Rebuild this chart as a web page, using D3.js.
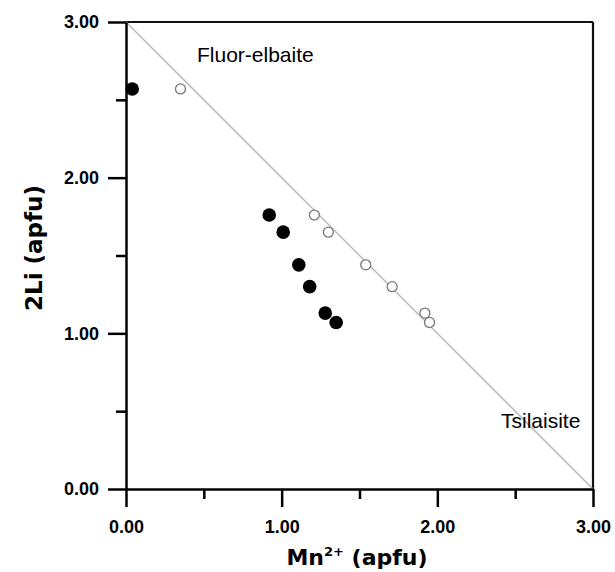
<!DOCTYPE html>
<html>
<head>
<meta charset="utf-8">
<title>2Li vs Mn2+</title>
<script src="https://d3js.org/d3.v7.min.js"></script>
<style>
  body { margin: 0; background: #fff; }
  svg { display: block; }
  .tick text { font-family: "Liberation Sans", Arial, sans-serif; font-weight: bold; font-size: 18px; fill: #000; }
  .axis path, .axis line { stroke: #000; stroke-width: 2.5; }
</style>
</head>
<body>
<svg id="chart" width="615" height="572"></svg>
<script>
// data (Mn2+ apfu, 2Li apfu)
var filledMn = [0.04, 0.92, 1.01, 1.11, 1.18, 1.28, 1.35];
var filledLi = [2.57, 1.76, 1.65, 1.44, 1.30, 1.13, 1.07];
var openMn = [0.35, 1.21, 1.30, 1.54, 1.71, 1.92, 1.95];
var openLi = [2.57, 1.76, 1.65, 1.44, 1.30, 1.13, 1.07];
var majorTicks = [0, 1, 2, 3];
var minorTicks = [0.5, 1.5, 2.5];
var refLine = [[0, 3], [3, 0]];

var svg = d3.select("#chart");

var x = d3.scaleLinear().domain([0, 3]).range([126, 593]);
var y = d3.scaleLinear().domain([0, 3]).range([489, 22]);

// frame top + right
svg.append("line")
  .attr("x1", x(0)).attr("x2", x(3)).attr("y1", y(3)).attr("y2", y(3))
  .attr("stroke", "#111").attr("stroke-width", 2.2);
svg.append("line")
  .attr("x1", x(3)).attr("x2", x(3)).attr("y1", y(3)).attr("y2", y(0))
  .attr("stroke", "#111").attr("stroke-width", 2.2);

// 1:1 substitution line
svg.append("path")
  .attr("d", d3.line().x(function(d){ return x(d[0]) }).y(function(d){ return y(d[1]) })(refLine))
  .attr("fill", "none")
  .attr("stroke", "#b4b4b4")
  .attr("stroke-width", 1.3);

// minor ticks first
svg.append("g").attr("class", "axis")
  .attr("transform", "translate(0," + y(0) + ")")
  .call(d3.axisBottom(x).tickValues(minorTicks).tickSize(10).tickSizeOuter(0).tickFormat(""))
  .select(".domain").remove();
svg.append("g").attr("class", "axis")
  .attr("transform", "translate(" + x(0) + ",0)")
  .call(d3.axisLeft(y).tickValues(minorTicks).tickSize(10).tickSizeOuter(0).tickFormat(""))
  .select(".domain").remove();

// major axes
svg.append("g").attr("class", "axis")
  .attr("transform", "translate(0," + y(0) + ")")
  .call(d3.axisBottom(x).tickValues(majorTicks).tickSize(18).tickSizeOuter(0)
    .tickPadding(13).tickFormat(d3.format(".2f")));
svg.append("g").attr("class", "axis")
  .attr("transform", "translate(" + x(0) + ",0)")
  .call(d3.axisLeft(y).tickValues(majorTicks).tickSize(18).tickSizeOuter(0)
    .tickPadding(9).tickFormat(d3.format(".2f")));

// open circles
svg.append("g").selectAll("circle")
  .data(openMn)
  .enter()
  .append("circle")
    .attr("cx", function(d){ return x(d) })
    .attr("cy", function(d, i){ return y(openLi[i]) })
    .attr("r", 5)
    .attr("fill", "#fff")
    .attr("stroke", "#777")
    .attr("stroke-width", 1.3);

// filled circles
svg.append("g").selectAll("circle")
  .data(filledMn)
  .enter()
  .append("circle")
    .attr("cx", function(d){ return x(d) })
    .attr("cy", function(d, i){ return y(filledLi[i]) })
    .attr("r", 6.8)
    .attr("fill", "#000");

// field labels
svg.append("text")
  .attr("x", 197).attr("y", 62)
  .style("font-family", "'Liberation Sans', Arial, sans-serif")
  .style("font-size", "21px")
  .text("Fluor-elbaite");
svg.append("text")
  .attr("x", 501).attr("y", 428)
  .style("font-family", "'Liberation Sans', Arial, sans-serif")
  .style("font-size", "21px")
  .text("Tsilaisite");

// axis titles
var xt = svg.append("text")
  .attr("x", 357).attr("y", 565)
  .attr("text-anchor", "middle")
  .style("font-family", "'DejaVu Sans', sans-serif")
  .style("font-weight", "bold")
  .style("font-size", "22px");
xt.append("tspan").text("Mn");
xt.append("tspan").attr("dy", -9).style("font-size", "13px").text("2+");
xt.append("tspan").attr("dy", 9).text(" (apfu)");

svg.append("text")
  .attr("transform", "translate(42,248) rotate(-90)")
  .attr("text-anchor", "middle")
  .style("font-family", "'DejaVu Sans', sans-serif")
  .style("font-weight", "bold")
  .style("font-size", "23px")
  .text("2Li (apfu)");
</script>
</body>
</html>
